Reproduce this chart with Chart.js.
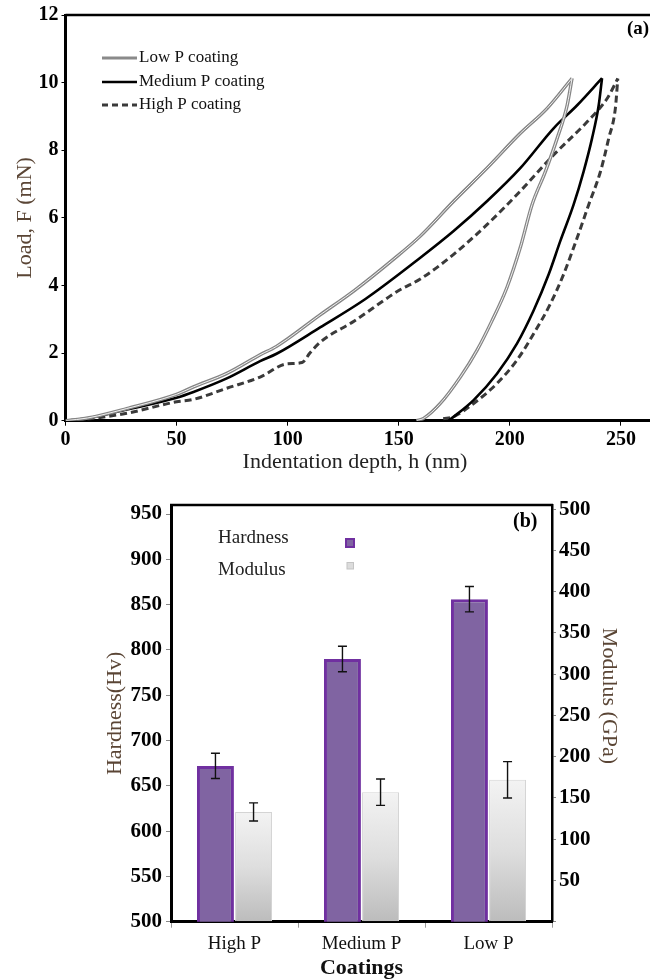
<!DOCTYPE html>
<html>
<head>
<meta charset="utf-8">
<script src="https://cdn.jsdelivr.net/npm/chart.js@4.4.0/dist/chart.umd.min.js"></script>
<style>
html,body{margin:0;padding:0;background:#fff;overflow:hidden;width:650px;height:980px;}
#w1{position:absolute;left:0;top:0;width:732px;height:480px;}
#w2{position:absolute;left:0;top:480px;width:650px;height:500px;}
</style>
</head>
<body>
<div id="w1"><canvas id="c1" width="732" height="480"></canvas></div>
<div id="w2"><canvas id="c2" width="650" height="500"></canvas></div>
<script>
// ---------- Chart (a) data ----------
const xTicks = [0, 50, 100, 150, 200, 250];
const yTicks = [0, 2, 4, 6, 8, 10, 12];
const lowLoadH = [0, 10, 27.6, 50, 57.6, 72.6, 87.6, 95, 114.6, 130, 147.7, 159.7, 174.7, 189.7, 204.7, 216.8, 228];
const lowLoadF = [0, 0.08, 0.36, 0.78, 1.0, 1.4, 1.95, 2.2, 3.13, 3.85, 4.78, 5.46, 6.49, 7.47, 8.5, 9.24, 10.13];
const lowUnH = [158, 161.2, 168.7, 177.7, 185.2, 192, 198.7, 204.7, 210, 216, 221.3, 225.8, 228];
const lowUnF = [0, 0.07, 0.51, 1.29, 2.08, 2.96, 3.94, 5.12, 6.39, 7.37, 8.35, 9.33, 10.13];
const medLoadH = [0, 10, 27.6, 50, 57.6, 72.6, 87.6, 95, 114.6, 135, 159.7, 174.7, 189.7, 204.7, 219.7, 230.3, 241.5];
const medLoadF = [0, 0.07, 0.33, 0.68, 0.85, 1.25, 1.76, 1.98, 2.76, 3.6, 4.82, 5.61, 6.49, 7.47, 8.65, 9.33, 10.13];
const medUnH = [172.5, 183.7, 194.2, 203.2, 210.7, 217.5, 222.7, 228.7, 233.2, 237, 240, 241.5];
const medUnF = [0, 0.61, 1.39, 2.28, 3.26, 4.33, 5.31, 6.39, 7.37, 8.35, 9.33, 10.13];
const highLoadH = [0, 10, 27.6, 50, 57.6, 72.6, 87.6, 99.6, 106.5, 110, 114.6, 130, 150, 159.7, 174.7, 189.7, 204.7, 219.7, 234.8, 243.8, 248.6];
const highLoadF = [0, 0.05, 0.22, 0.56, 0.63, 0.96, 1.29, 1.68, 1.72, 2.0, 2.32, 2.95, 3.85, 4.19, 4.92, 5.8, 6.79, 7.86, 8.84, 9.53, 10.12];
const highUnH = [170, 174.7, 183.7, 194.2, 203.2, 210.7, 218.2, 224.2, 230.3, 235.5, 240.8, 244.5, 247.5, 248.6];
const highUnF = [0.06, 0.12, 0.51, 1.1, 1.79, 2.57, 3.45, 4.33, 5.41, 6.39, 7.37, 8.35, 9.24, 10.12];
const seriesNames = ['Low P coating', 'Medium P coating', 'High P coating'];

// ---------- Chart (b) data ----------
const coatings = ['High P', 'Medium P', 'Low P'];
const hardness = [672, 790, 856];
const hardnessErr = [14, 14, 14];
const modulus = [133, 157, 172];
const modulusErr = [11, 16, 22];
const barSeries = ['Hardness', 'Modulus'];

const SERIF = '"Liberation Serif", "Times New Roman", serif';
const BROWN = '#5a4535';
function pts(h, f) { return h.map((v, i) => ({x: v, y: f[i]})); }

// ---------- Chart (a) ----------
const topPlugin = {
  id: 'decoA',
  afterDraw(chart) {
    const ctx = chart.ctx, a = chart.chartArea;
    ctx.save();
    ctx.strokeStyle = '#000'; ctx.lineWidth = 2.5;
    ctx.beginPath(); ctx.moveTo(a.left, a.top); ctx.lineTo(a.right, a.top); ctx.stroke();
    ctx.font = 'bold 19px ' + SERIF; ctx.fillStyle = '#000'; ctx.textBaseline = 'middle';
    ctx.fillText('(a)', 627, 29);
    // x axis title
    ctx.font = '22px ' + SERIF; ctx.fillStyle = '#222'; ctx.textAlign = 'center';
    ctx.fillText('Indentation depth, h (nm)', 355, 462);
    ctx.textAlign = 'left';
    // legend
    const items = [
      {y: 58, color: '#8a8a8a', dash: [], w: 3},
      {y: 82, color: '#000', dash: [], w: 2.6},
      {y: 105, color: '#3a3a3a', dash: [6, 4], w: 3}
    ];
    ctx.font = '17px ' + SERIF;
    items.forEach((it, i) => {
      ctx.strokeStyle = it.color; ctx.lineWidth = it.w; ctx.setLineDash(it.dash);
      ctx.beginPath(); ctx.moveTo(102, it.y); ctx.lineTo(137, it.y); ctx.stroke();
      ctx.setLineDash([]);
      ctx.fillStyle = '#111';
      ctx.fillText(seriesNames[i], 139, it.y);
    });
    ctx.restore();
  }
};

const lineBase = {showLine: true, pointRadius: 0, cubicInterpolationMode: 'monotone', fill: false};
new Chart(document.getElementById('c1'), {
  type: 'scatter',
  data: {
    datasets: [
      Object.assign({data: pts(lowLoadH, lowLoadF), borderColor: '#f2f2f2', borderWidth: 1, order: 0}, lineBase),
      Object.assign({data: pts(lowUnH, lowUnF), borderColor: '#f2f2f2', borderWidth: 1, order: 0}, lineBase),
      Object.assign({data: pts(lowLoadH, lowLoadF), borderColor: '#858585', borderWidth: 3.4, order: 1}, lineBase),
      Object.assign({data: pts(lowUnH, lowUnF), borderColor: '#858585', borderWidth: 3.4, order: 1}, lineBase),
      Object.assign({data: pts(medLoadH, medLoadF), borderColor: '#000', borderWidth: 2.6, order: 2}, lineBase),
      Object.assign({data: pts(medUnH, medUnF), borderColor: '#000', borderWidth: 2.6, order: 2}, lineBase),
      Object.assign({data: pts(highLoadH, highLoadF), borderColor: '#3a3a3a', borderWidth: 3, borderDash: [7, 4], order: 3}, lineBase),
      Object.assign({data: pts(highUnH, highUnF), borderColor: '#3a3a3a', borderWidth: 3, borderDash: [7, 4], order: 3}, lineBase)
    ]
  },
  options: {
    responsive: false, animation: false, devicePixelRatio: 1,
    layout: {padding: {top: 12.3, left: 0, right: 0, bottom: 0}, autoPadding: false},
    plugins: {legend: {display: false}, tooltip: {enabled: false}},
    scales: {
      x: {
        type: 'linear', min: 0, max: 300,
        afterFit(s) { s.height = 59.3; },
        afterBuildTicks(s) { s.ticks = xTicks.map(v => ({value: v})); },
        ticks: {font: {family: SERIF, size: 20, weight: 'bold'}, color: '#000', padding: 2},
        grid: {drawOnChartArea: false, drawTicks: true, tickLength: 5, color: '#000'},
        border: {color: '#000', width: 3},
        title: {display: false}
      },
      y: {
        type: 'linear', min: 0, max: 12,
        afterFit(s) { s.width = 65.5; },
        afterBuildTicks(s) { s.ticks = yTicks.map(v => ({value: v})); },
        ticks: {font: {family: SERIF, size: 20, weight: 'bold'}, color: '#000', padding: 3},
        grid: {drawOnChartArea: false, drawTicks: true, tickLength: 4, color: '#000'},
        border: {color: '#000', width: 3},
        title: {display: true, text: 'Load, F (mN)', font: {family: SERIF, size: 22}, color: BROWN, padding: {top: 12}}
      }
    }
  },
  plugins: [topPlugin]
});

// ---------- Chart (b) ----------
const decoB = {
  id: 'decoB',
  afterDatasetsDraw(chart) {
    const ctx = chart.ctx;
    ctx.save();
    const drawErr = (dsIndex, vals, errs, scaleId) => {
      const meta = chart.getDatasetMeta(dsIndex);
      const sc = chart.scales[scaleId];
      meta.data.forEach((bar, i) => {
        const x = bar.x;
        const yT = sc.getPixelForValue(vals[i] + errs[i]);
        const yB = sc.getPixelForValue(vals[i] - errs[i]);
        ctx.strokeStyle = '#111'; ctx.lineWidth = 1.4;
        ctx.beginPath();
        ctx.moveTo(x, yT); ctx.lineTo(x, yB);
        ctx.moveTo(x - 4.5, yT); ctx.lineTo(x + 4.5, yT);
        ctx.moveTo(x - 4.5, yB); ctx.lineTo(x + 4.5, yB);
        ctx.stroke();
      });
    };
    drawErr(0, hardness, hardnessErr, 'y');
    drawErr(1, modulus, modulusErr, 'y1');
    ctx.restore();
  },
  afterDraw(chart) {
    const ctx = chart.ctx, a = chart.chartArea;
    ctx.save();
    ctx.strokeStyle = '#000'; ctx.lineWidth = 2.5;
    ctx.beginPath(); ctx.moveTo(a.left - 1, a.top); ctx.lineTo(a.right + 1, a.top); ctx.stroke();
    ctx.font = 'bold 20px ' + SERIF; ctx.fillStyle = '#000'; ctx.textBaseline = 'middle';
    ctx.fillText('(b)', 513, 42);
    ctx.font = '19px ' + SERIF; ctx.fillStyle = '#222';
    ctx.fillText(barSeries[0], 218, 58);
    ctx.fillText(barSeries[1], 218, 90);
    ctx.fillStyle = '#8064A2'; ctx.strokeStyle = '#7030A0'; ctx.lineWidth = 2;
    ctx.fillRect(346, 59, 8, 8); ctx.strokeRect(346, 59, 8, 8);
    ctx.fillStyle = '#dcdcdc'; ctx.strokeStyle = '#c4c4c4'; ctx.lineWidth = 1;
    ctx.fillRect(347, 82.5, 6.5, 6.5); ctx.strokeRect(347, 82.5, 6.5, 6.5);
    // right axis title
    ctx.translate(609, 216);
    ctx.rotate(Math.PI / 2);
    ctx.font = '22px ' + SERIF; ctx.fillStyle = BROWN; ctx.textAlign = 'center';
    ctx.fillText('Modulus (GPa)', 0, 0);
    ctx.restore();
  }
};

function modGradient(context) {
  const chart = context.chart;
  const a = chart.chartArea;
  if (!a || context.dataIndex === undefined) return '#dddddd';
  const top = chart.scales.y1.getPixelForValue(modulus[context.dataIndex]);
  const g = chart.ctx.createLinearGradient(0, top, 0, a.bottom);
  g.addColorStop(0, '#f3f3f3');
  g.addColorStop(0.5, '#dedede');
  g.addColorStop(1, '#bcbcbc');
  return g;
}

new Chart(document.getElementById('c2'), {
  type: 'bar',
  data: {
    labels: coatings,
    datasets: [
      {label: barSeries[0], data: hardness, yAxisID: 'y', backgroundColor: '#8064A2', borderColor: '#7030A0', borderWidth: 3, borderSkipped: false, categoryPercentage: 0.6, barPercentage: 0.97},
      {label: barSeries[1], data: modulus, yAxisID: 'y1', backgroundColor: modGradient, borderColor: '#d4d4d4', borderWidth: 1, borderSkipped: 'bottom', categoryPercentage: 0.6, barPercentage: 0.97}
    ]
  },
  options: {
    responsive: false, animation: false, devicePixelRatio: 1,
    layout: {padding: {top: 25, left: 0, right: 0, bottom: 0}, autoPadding: false},
    plugins: {legend: {display: false}, tooltip: {enabled: false}},
    scales: {
      x: {
        afterFit(s) { s.height = 58.3; },
        ticks: {font: {family: SERIF, size: 19}, color: '#111', padding: 5},
        grid: {offset: true, drawOnChartArea: false, drawTicks: true, tickLength: 6, color: '#999'},
        border: {color: '#000', width: 3},
        title: {display: true, text: 'Coatings', font: {family: SERIF, size: 22, weight: 'bold'}, color: '#111', padding: {bottom: -2}}
      },
      y: {
        position: 'left', min: 500, max: 960,
        afterFit(s) { s.width = 171; },
        ticks: {stepSize: 50, includeBounds: false, font: {family: SERIF, size: 21, weight: 'bold'}, color: '#000', padding: 4},
        grid: {drawOnChartArea: false, drawTicks: true, tickLength: 5, color: '#888'},
        border: {color: '#000', width: 3},
        title: {display: true, text: 'Hardness(Hv)', font: {family: SERIF, size: 22}, color: BROWN, padding: {top: 102}}
      },
      y1: {
        position: 'right', min: 0, max: 505,
        afterFit(s) { s.width = 98; },
        ticks: {stepSize: 50, includeBounds: false, font: {family: SERIF, size: 21, weight: 'bold'}, color: '#000', padding: 3,
          callback: (v) => v === 0 ? '' : v},
        grid: {drawOnChartArea: false, drawTicks: true, tickLength: 4, color: '#888'},
        border: {color: '#000', width: 2.5},
        title: {display: false}
      }
    }
  },
  plugins: [decoB]
});
</script>
</body>
</html>
